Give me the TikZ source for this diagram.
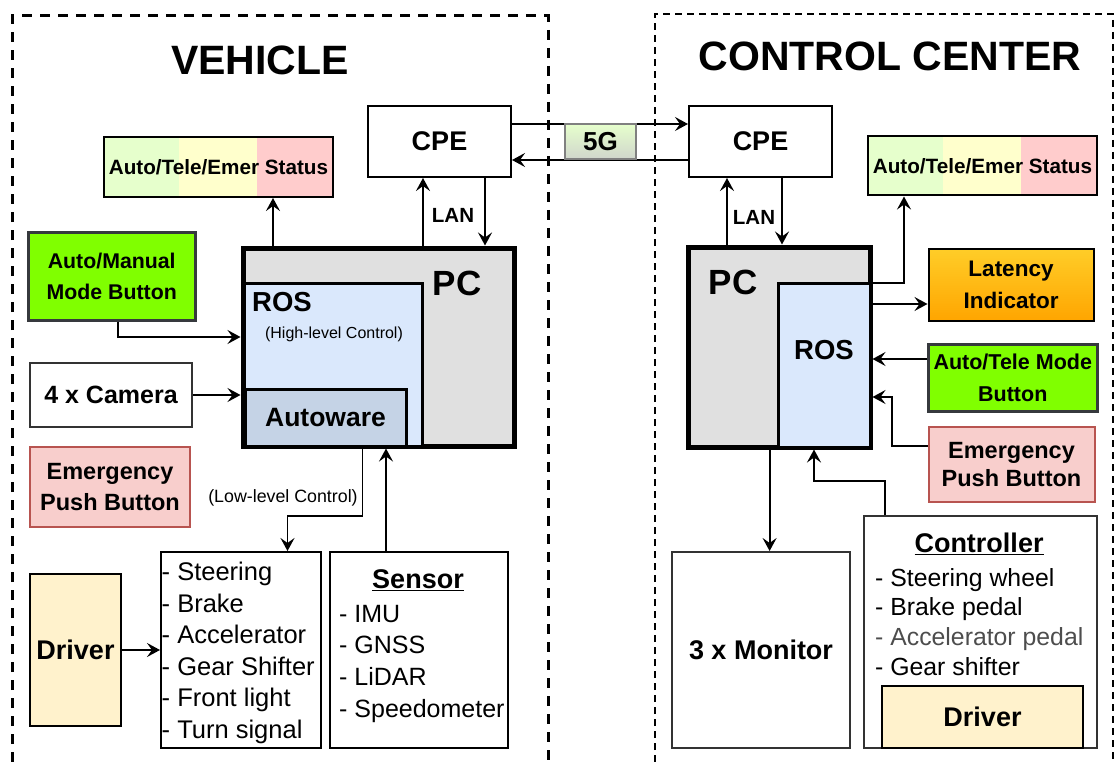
\documentclass[tikz,border=0pt]{standalone}
\usepackage{fontspec}
\setmainfont{Liberation Sans}
\usetikzlibrary{arrows.meta,calc}
\definecolor{pcgray}{HTML}{E0E0E0}
\definecolor{rosblue}{HTML}{DAE8FC}
\definecolor{awblue}{HTML}{C5D3E6}
\definecolor{btngreen}{HTML}{80FF00}
\definecolor{btnedge}{HTML}{36393D}
\definecolor{emfill}{HTML}{F8CECC}
\definecolor{emedge}{HTML}{B85450}
\definecolor{drvfill}{HTML}{FFF2CC}
\definecolor{stg}{HTML}{E6FFCC}
\definecolor{sty}{HTML}{FFFFCC}
\definecolor{stp}{HTML}{FFCCCC}
\definecolor{latop}{HTML}{FFCD28}
\definecolor{latbot}{HTML}{FFA500}
\definecolor{gtop}{HTML}{E6FFCC}
\definecolor{gbot}{HTML}{D0D6CC}
\definecolor{edgegray}{HTML}{333333}
\definecolor{softtext}{HTML}{4D4D4D}
\begin{document}
\begin{tikzpicture}[x=1pt,y=-1pt,inner sep=0pt,
  box/.style={draw, line width=2pt, align=center},
  arr/.style={line width=1.8pt, -{Stealth[length=13pt,width=14pt,inset=5pt]}},
  btn/.style={box, draw=btnedge, line width=3pt, fill=btngreen},
  emer/.style={box, draw=emedge, fill=emfill},
  listtxt/.style={align=left, anchor=north west},
  heading/.style={font=\bfseries\fontsize{27}{32}\selectfont},
]
\useasboundingbox (0,0) rectangle (1116,762);

% region frames
\draw[line width=3pt, dash pattern=on 10pt off 8pt] (12,762) -- (12,16) -- (548,16) -- (548,762);
\draw[line width=2pt, dash pattern=on 7pt off 5pt] (655,762) -- (655,14) -- (1113,14) -- (1113,762);

\node[font=\bfseries\fontsize{41}{48}\selectfont] (tveh) at (260,60) {VEHICLE};
\node[font=\bfseries\fontsize{41}{48}\selectfont] (tcc) at (890,56) {CONTROL CENTER};

% ---------------- vehicle side ----------------
\node[box, minimum width=143pt, minimum height=71pt, font=\bfseries\fontsize{27}{30}\selectfont] (cpeL) at (439.5,141.5) {CPE};

\fill[stg] (104,137) rectangle (179,197);
\fill[sty] (179,137) rectangle (257,197);
\fill[stp] (257,137) rectangle (333,197);
\node[box, minimum width=229pt, minimum height=60pt, font=\bfseries\fontsize{20.7}{24}\selectfont] (stL) at (218.5,167) {Auto/Tele/Emer Status};

\node[btn, minimum width=166.5pt, minimum height=88pt, font=\bfseries\fontsize{21.3}{31}\selectfont] (am) at (111.75,276) {Auto/Manual\\Mode Button};
\node[box, draw=edgegray, minimum width=162pt, minimum height=64pt, font=\bfseries\fontsize{25}{28}\selectfont] (cam) at (111,395) {4 x Camera};
\node[emer, minimum width=160pt, minimum height=80pt, font=\bfseries\fontsize{23.5}{31}\selectfont] (emL) at (110,487) {Emergency\\Push Button};

\node[draw, line width=5pt, fill=pcgray, minimum width=271pt, minimum height=198pt] (pcL) at (378.5,347) {};
\node[draw, line width=3pt, fill=rosblue, minimum width=178pt, minimum height=163pt] (rosL) at (333,364.5) {};
\node[draw, line width=3pt, fill=awblue, minimum width=161pt, minimum height=57pt, font=\bfseries\fontsize{26.5}{30}\selectfont] (aw) at (325.5,417.5) {Autoware};
\node[font=\bfseries\fontsize{35}{40}\selectfont] (pcLt) at (457,283) {PC};
\node[anchor=west, font=\bfseries\fontsize{27.5}{32}\selectfont] (rosLt) at (252,302) {ROS};
\node[font=\fontsize{16}{20}\selectfont] (hlc) at (334,334) {(High-level Control)};

\node[box, minimum width=160pt, minimum height=196pt] (act) at (241,650) {};
\node[listtxt, font=\fontsize{25.5}{31.6}\selectfont] (actlist) at (161.5,558.2) {\strut- Steering\\- Brake\\- Accelerator\\- Gear Shifter\\- Front light\\- Turn signal};

\node[box, minimum width=178pt, minimum height=196pt] (sens) at (419,650) {};
\node[heading] (sensh) at (418,580) {\underline{Sensor}};
\node[listtxt, font=\fontsize{25}{31.7}\selectfont] (senslist) at (339,599.8) {\strut- IMU\\- GNSS\\- LiDAR\\- Speedometer};

\node[box, fill=drvfill, minimum width=91pt, minimum height=152pt, font=\bfseries\fontsize{27}{30}\selectfont] (drvL) at (75.5,650) {Driver};

\node[font=\fontsize{17.8}{20}\selectfont] (llc) at (283,498) {(Low-level Control)};

\node[font=\bfseries\fontsize{20.5}{24}\selectfont] (lanL) at (453,215) {LAN};

% vehicle connectors
\draw[arr] (pcL.north -| 273,0) -- (stL.south -| 273,0);
\draw[arr] (pcL.north -| 423,0) -- (cpeL.south -| 423,0);
\draw[arr] (cpeL.south -| 485,0) -- (pcL.north -| 485,0);
\draw[arr] (am.south -| 118,0) |- (pcL.west |- 0,337);
\draw[arr] (cam.east) -- (pcL.west |- cam.east);
\draw[arr] (aw.south -| 362.5,0) -- (362.5,516) -| (act.north -| 287.5,0);
\draw[arr] (sens.north -| 386,0) -- (pcL.south -| 386,0);
\draw[arr] (drvL.east) -- (act.west |- drvL.east);

% ---------------- control center side ----------------
\node[box, minimum width=143pt, minimum height=71pt, font=\bfseries\fontsize{27}{30}\selectfont] (cpeR) at (760.5,141.5) {CPE};

\fill[stg] (868,136) rectangle (943,195);
\fill[sty] (943,136) rectangle (1021,195);
\fill[stp] (1021,136) rectangle (1097,195);
\node[box, minimum width=229pt, minimum height=59pt, font=\bfseries\fontsize{20.7}{24}\selectfont] (stR) at (982.5,166) {Auto/Tele/Emer Status};

\node[draw, line width=5pt, fill=pcgray, minimum width=182pt, minimum height=200pt] (pcR) at (779,347) {};
\node[draw, line width=3pt, fill=rosblue, minimum width=92pt, minimum height=164pt] (rosR) at (824,365) {};
\node[font=\bfseries\fontsize{35}{40}\selectfont] (pcRt) at (733,282) {PC};
\node[font=\bfseries\fontsize{27.5}{32}\selectfont] (rosRt) at (824,350) {ROS};

\node[box, draw=black, top color=latop, bottom color=latbot, minimum width=165pt, minimum height=72pt, font=\bfseries\fontsize{22.5}{32}\selectfont] (lat) at (1011,285) {Latency\\Indicator};
\node[btn, minimum width=168.5pt, minimum height=67pt, font=\bfseries\fontsize{21.5}{32}\selectfont] (atb) at (1012.75,378) {Auto/Tele Mode\\Button};
\node[emer, minimum width=166pt, minimum height=75pt, font=\bfseries\fontsize{23.5}{28}\selectfont] (emR) at (1011.5,464.5) {Emergency\\Push Button};

\node[box, draw=edgegray, minimum width=178pt, minimum height=196pt, font=\bfseries\fontsize{27}{30}\selectfont] (mon) at (761,650) {3 x Monitor};

\node[box, draw=edgegray, minimum width=233pt, minimum height=232pt] (ctl) at (980.5,632) {};
\node[heading] (ctlh) at (979,544) {\underline{Controller}};
\node[listtxt, font=\fontsize{24.8}{29.7}\selectfont] (ctllist) at (875,565.2) {\strut- Steering wheel\\- Brake pedal\\{\color{softtext}- Accelerator pedal}\\- Gear shifter};
\node[box, fill=drvfill, minimum width=201pt, minimum height=62pt, font=\bfseries\fontsize{27}{30}\selectfont] (drvR) at (982.5,717) {Driver};

\node[font=\bfseries\fontsize{20.5}{24}\selectfont] (lanR) at (754,217) {LAN};

% control center connectors
\draw[arr] (pcR.north -| 727,0) -- (cpeR.south -| 727,0);
\draw[arr] (cpeR.south -| 782,0) -- (pcR.north -| 782,0);
\draw[arr] (pcR.east |- 0,283) -| (stR.south -| 904,0);
\draw[arr] (pcR.east |- 0,304) -- (lat.west |- 0,304);
\draw[arr] (atb.west |- 0,359) -- (pcR.east |- 0,359);
\draw[arr] (emR.west |- 0,446) -| (892,397) -- (pcR.east |- 0,397);
\draw[arr] (ctl.north -| 885,0) |- (814,481) -- (pcR.south -| 814,0);
\draw[arr] (pcR.south -| 769.6,0) -- (mon.north -| 769.6,0);

% 5G link between the two CPEs
\draw[arr] ([yshift=17.5pt]cpeL.east) -- ([yshift=17.5pt]cpeR.west);
\draw[arr] ([yshift=-18.5pt]cpeR.west) -- ([yshift=-18.5pt]cpeL.east);
\node[draw=gray, line width=1.5pt, top color=gtop, bottom color=gbot, minimum width=71pt, minimum height=35pt, font=\bfseries\fontsize{26}{30}\selectfont] (g5) at (600.5,141.5) {5G};
\end{tikzpicture}
\end{document}
